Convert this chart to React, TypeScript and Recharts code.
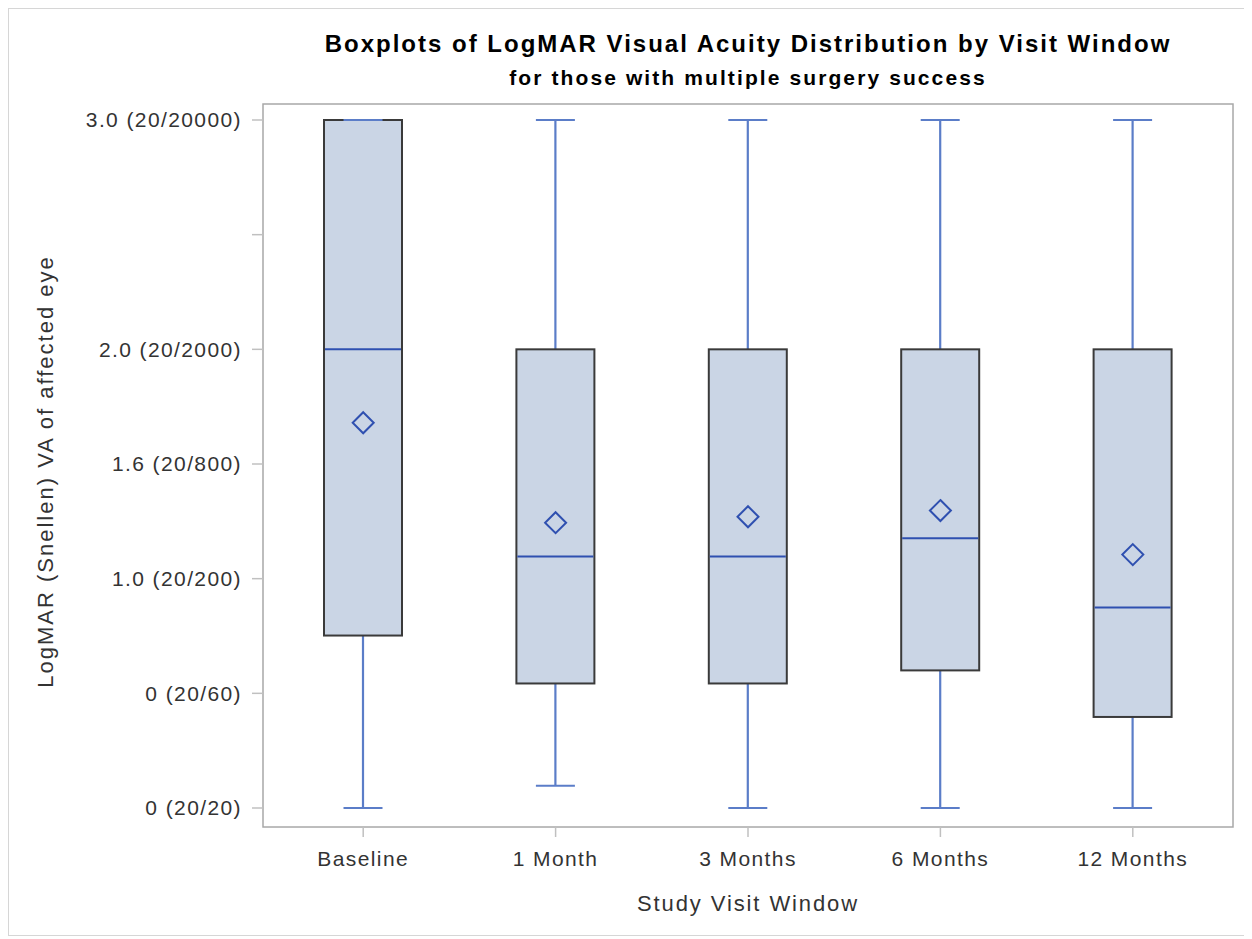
import { ComposedChart, Bar, Scatter, XAxis, YAxis } from "recharts";

const visits = ["Baseline", "1 Month", "3 Months", "6 Months", "12 Months"];
const mins = [0, 0.097, 0, 0, 0];
const q1s = [0.752, 0.543, 0.543, 0.6, 0.397];
const medians = [2.0, 1.097, 1.097, 1.176, 0.874];
const q3s = [3.0, 2.0, 2.0, 2.0, 2.0];
const maxs = [3.0, 3.0, 3.0, 3.0, 3.0];
const means = [1.68, 1.244, 1.27, 1.297, 1.105];

const yTicks = [0, 0.5, 1, 1.5, 2, 2.5, 3];
const yTickLabels = ["0 (20/20)", "0 (20/60)", "1.0 (20/200)", "1.6 (20/800)", "2.0 (20/2000)", "", "3.0 (20/20000)"];

const data = visits.map((visit, i) => ({
  visit,
  min: mins[i],
  q1: q1s[i],
  median: medians[i],
  q3: q3s[i],
  max: maxs[i],
  mean: means[i],
  range: [mins[i], maxs[i]],
}));

const FONT = "'Liberation Sans', Arial, Helvetica, sans-serif";
const BOX_FILL = "#CAD5E5";
const BOX_EDGE = "#3a3a3a";
const WHISKER = "#5B7DC8";
const MEDIAN = "#2F50B0";
const FRAME = "#a8a8a8";

const W = 1240;
const H = 926;
const PLOT_LEFT = 254;
const PLOT_TOP = 95;
const PLOT_RIGHT = 1224;
const PLOT_BOTTOM = 818;

// the bar spans [min, max]; box parts are placed along that span
function BoxShape(props: any) {
  const { x, y, width, height, payload } = props;
  const top = Math.min(y, y + height);
  const bottom = Math.max(y, y + height);
  const span = payload.max - payload.min;
  const py = (v: number) => bottom - ((v - payload.min) / span) * (bottom - top);
  const cx = x + width / 2;
  const capHalf = width / 4;
  const yq1 = py(payload.q1);
  const yq3 = py(payload.q3);
  const ymed = py(payload.median);
  const ymin = py(payload.min);
  const ymax = py(payload.max);
  return (
    <g>
      <line x1={cx} x2={cx} y1={ymax} y2={yq3} stroke={WHISKER} strokeWidth={2.2} />
      <line x1={cx} x2={cx} y1={yq1} y2={ymin} stroke={WHISKER} strokeWidth={2.2} />
      <rect x={x} y={yq3} width={width} height={yq1 - yq3} fill={BOX_FILL} stroke={BOX_EDGE} strokeWidth={2} />
      <line x1={x + 1} x2={x + width - 1} y1={ymed} y2={ymed} stroke={MEDIAN} strokeWidth={2} />
      <line x1={cx - capHalf} x2={cx + capHalf} y1={ymax} y2={ymax} stroke={WHISKER} strokeWidth={2.2} />
      <line x1={cx - capHalf} x2={cx + capHalf} y1={ymin} y2={ymin} stroke={WHISKER} strokeWidth={2.2} />
    </g>
  );
}

function Diamond(props: any) {
  const { cx, cy } = props;
  const r = 10.5;
  return (
    <path
      d={`M${cx},${cy - r} L${cx + r},${cy} L${cx},${cy + r} L${cx - r},${cy} Z`}
      fill="none"
      stroke={MEDIAN}
      strokeWidth={2}
    />
  );
}

const tickStyle = { fontSize: 21, fill: "#333", fontFamily: FONT, letterSpacing: 1.4 };

export default function App() {
  const midY = (PLOT_TOP + PLOT_BOTTOM) / 2 + 6;
  return (
    <div style={{ width: W, height: H, border: "1px solid #d6d6d6", background: "#fff" }}>
      <ComposedChart
        width={W}
        height={H}
        data={data}
        margin={{ top: PLOT_TOP, right: W - PLOT_RIGHT, bottom: H - PLOT_BOTTOM - 40, left: 0 }}
        barCategoryGap={0}
      >
        <XAxis
          dataKey="visit"
          type="category"
          height={40}
          padding={{ left: 4, right: 4 }}
          axisLine={false}
          tickLine={{ stroke: "#c0c0c0", strokeWidth: 1.5 }}
          tickSize={10}
          tickMargin={14}
          tick={tickStyle}
          interval={0}
        />
        <YAxis
          type="number"
          domain={[0, 3]}
          ticks={yTicks}
          width={PLOT_LEFT}
          padding={{ top: 16, bottom: 19 }}
          axisLine={false}
          tickLine={{ stroke: "#c0c0c0", strokeWidth: 1.5 }}
          tickSize={11}
          tickMargin={10}
          tick={tickStyle}
          tickFormatter={(v: number) => yTickLabels[yTicks.indexOf(v)] ?? ""}
          interval={0}
        />
        <rect
          x={PLOT_LEFT}
          y={PLOT_TOP}
          width={PLOT_RIGHT - PLOT_LEFT}
          height={PLOT_BOTTOM - PLOT_TOP}
          fill="none"
          stroke={FRAME}
          strokeWidth={1.5}
        />
        <Bar dataKey="range" barSize={78} shape={<BoxShape />} isAnimationActive={false} />
        <Scatter dataKey="mean" shape={<Diamond />} isAnimationActive={false} />
        <text x={(PLOT_LEFT + PLOT_RIGHT) / 2} y={43} textAnchor="middle" fontFamily={FONT} fontWeight="bold" fontSize={24} letterSpacing={2} fill="#000">
          Boxplots of LogMAR Visual Acuity Distribution by Visit Window
        </text>
        <text x={(PLOT_LEFT + PLOT_RIGHT) / 2} y={76} textAnchor="middle" fontFamily={FONT} fontWeight="bold" fontSize={21} letterSpacing={2.1} fill="#000">
          for those with multiple surgery success
        </text>
        <text x={(PLOT_LEFT + PLOT_RIGHT) / 2} y={902} textAnchor="middle" fontFamily={FONT} fontSize={22} letterSpacing={1.9} fill="#333">
          Study Visit Window
        </text>
        <text
          x={36}
          y={midY}
          textAnchor="middle"
          dominantBaseline="central"
          transform={`rotate(-90, 36, ${midY})`}
          fontFamily={FONT}
          fontSize={22}
          letterSpacing={2}
          fill="#333"
        >
          LogMAR (Snellen) VA of affected eye
        </text>
      </ComposedChart>
    </div>
  );
}
